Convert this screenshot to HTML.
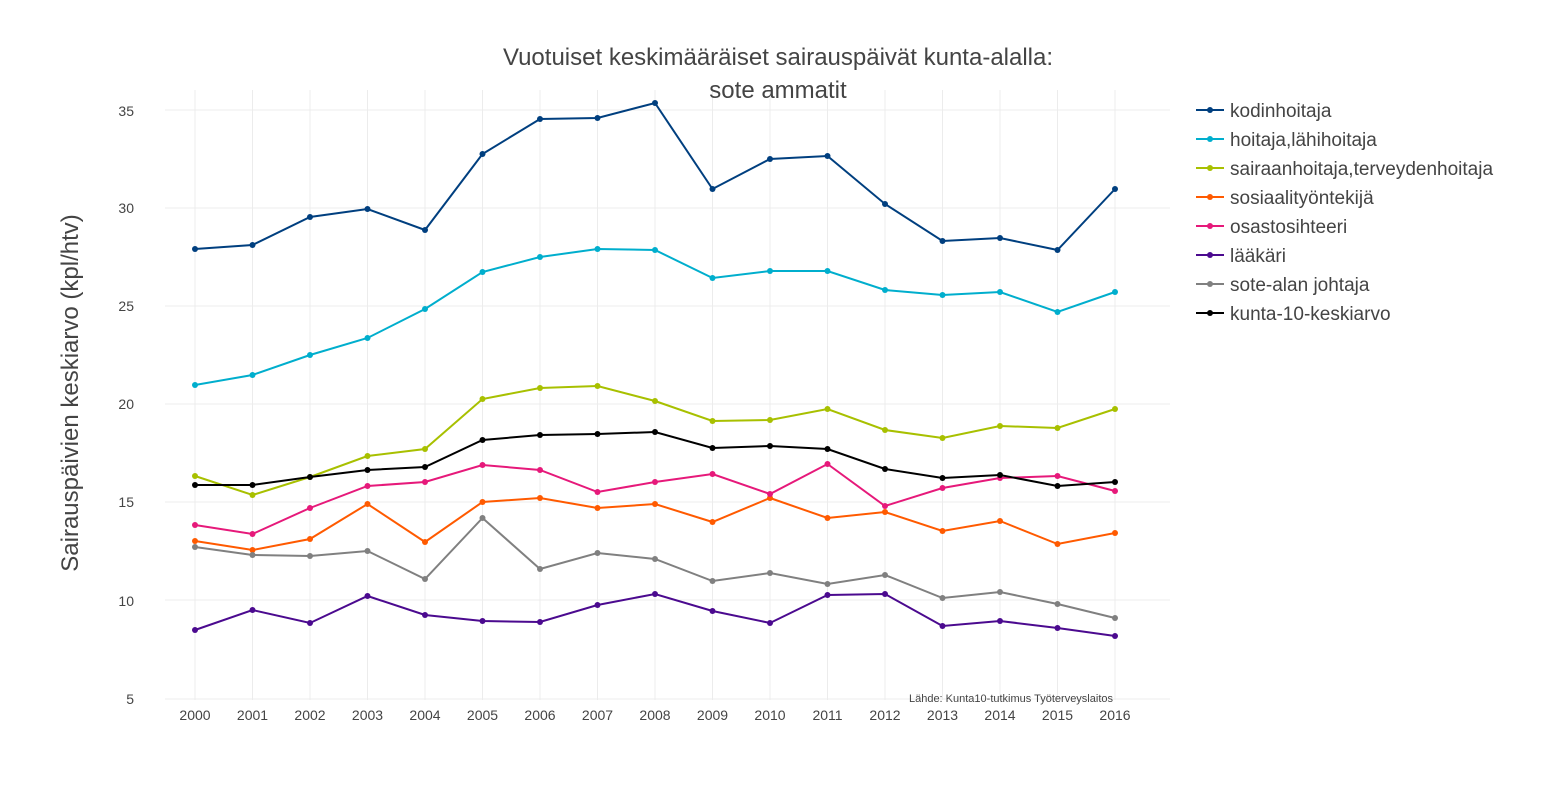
<!DOCTYPE html>
<html><head><meta charset="utf-8"><style>
body{margin:0;background:#fff;width:1556px;height:788px;overflow:hidden}
text{font-family:"Liberation Sans",sans-serif;fill:#444}
</style></head><body>
<svg id="s" width="1556" height="788" xmlns="http://www.w3.org/2000/svg">
<g id="grid" stroke="#ececec" stroke-width="1"></g>
<text x="778" y="65" font-size="24" text-anchor="middle">Vuotuiset keskimääräiset sairauspäivät kunta-alalla:</text>
<text x="778" y="98" font-size="24" text-anchor="middle">sote ammatit</text>
<text transform="translate(78,393) rotate(-90)" font-size="24" text-anchor="middle">Sairauspäivien keskiarvo (kpl/htv)</text>
<g font-size="14" text-anchor="end">
<text x="134" y="116">35</text><text x="134" y="213">30</text><text x="134" y="311">25</text><text x="134" y="409">20</text><text x="134" y="507">15</text><text x="134" y="606">10</text><text x="134" y="704">5</text>
</g>
<g id="xl" font-size="14" text-anchor="middle"></g>
<text x="1113" y="702" font-size="11" text-anchor="end">Lähde: Kunta10-tutkimus Työterveyslaitos</text>
<g id="series"></g>
<g font-size="19">
<text x="1230" y="117">kodinhoitaja</text>
<text x="1230" y="146">hoitaja,lähihoitaja</text>
<text x="1230" y="175">sairaanhoitaja,terveydenhoitaja</text>
<text x="1230" y="204">sosiaalityöntekijä</text>
<text x="1230" y="233">osastosihteeri</text>
<text x="1230" y="262">lääkäri</text>
<text x="1230" y="291">sote-alan johtaja</text>
<text x="1230" y="320">kunta-10-keskiarvo</text>
</g>
</svg>
<script>
var ns="http://www.w3.org/2000/svg";
function el(n,a,p){var e=document.createElementNS(ns,n);for(var k in a)e.setAttribute(k,a[k]);p.appendChild(e);return e;}
var g=document.getElementById('grid'),xl=document.getElementById('xl'),sr=document.getElementById('series');
[110,208,306,404,502,600,699].forEach(function(y){el('line',{x1:165,x2:1170,y1:y,y2:y},g);});
for(var i=0;i<17;i++){var x=195+i*57.5;el('line',{x1:x,x2:x,y1:90,y2:700},g);var t=el('text',{x:x,y:720},xl);t.textContent=2000+i;}
var D=[
["#003f7f",[249,245,217,209,230,154,119,118,103,189,159,156,204,241,238,250,189]],
["#00aecd",[385,375,355,338,309,272,257,249,250,278,271,271,290,295,292,312,292]],
["#a8c000",[476,495,477,456,449,399,388,386,401,421,420,409,430,438,426,428,409]],
["#ff5a00",[541,550,539,504,542,502,498,508,504,522,498,518,512,531,521,544,533]],
["#e6197a",[525,534,508,486,482,465,470,492,482,474,494,464,506,488,478,476,491]],
["#4b0a8f",[630,610,623,596,615,621,622,605,594,611,623,595,594,626,621,628,636]],
["#808080",[547,555,556,551,579,518,569,553,559,581,573,584,575,598,592,604,618]],
["#000000",[485,485,477,470,467,440,435,434,432,448,446,449,469,478,475,486,482]]];
D.forEach(function(d,j){
var pts=d[1].map(function(y,i){return (195+i*57.5)+","+y;}).join(" ");
el('polyline',{points:pts,fill:"none",stroke:d[0],"stroke-width":2},sr);
d[1].forEach(function(y,i){el('circle',{cx:195+i*57.5,cy:y,r:3,fill:d[0]},sr);});
var ly=110+j*29;
el('line',{x1:1196,x2:1224,y1:ly,y2:ly,stroke:d[0],"stroke-width":2},sr);
el('circle',{cx:1210,cy:ly,r:3,fill:d[0]},sr);
});
</script>
</body></html>
